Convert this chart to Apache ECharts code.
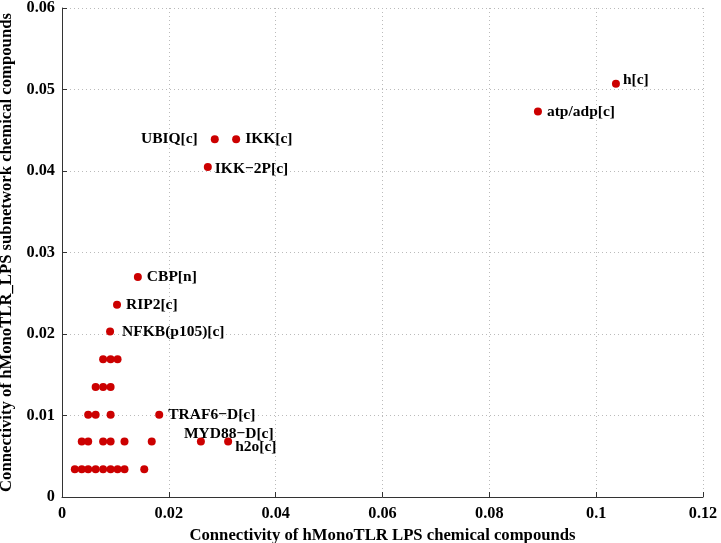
<!DOCTYPE html>
<html>
<head>
<meta charset="utf-8">
<script src="https://cdn.jsdelivr.net/npm/echarts@6/dist/echarts.min.js"></script>
<style>
  html, body { margin: 0; padding: 0; background: #fff; }
  #chart { width: 721px; height: 543px; }
</style>
</head>
<body>
<div id="chart"></div>
<script>
// connectivity values
const xValues = [
  0.0024, 0.0037, 0.0049, 0.0063, 0.0077, 0.0091, 0.0104, 0.0117, 0.0154,
  0.0037, 0.0049, 0.0077, 0.0091, 0.0117, 0.0168, 0.0260, 0.0311,
  0.0049, 0.0063, 0.0091, 0.0182,
  0.0063, 0.0077, 0.0091,
  0.0077, 0.0091, 0.0104,
  0.0090, 0.0103, 0.0142,
  0.0273, 0.0286, 0.0326,
  0.0891, 0.1037
]
const yValues = [
  0.0034, 0.0034, 0.0034, 0.0034, 0.0034, 0.0034, 0.0034, 0.0034, 0.0034,
  0.0068, 0.0068, 0.0068, 0.0068, 0.0068, 0.0068, 0.0068, 0.0068,
  0.0101, 0.0101, 0.0101, 0.0101,
  0.0135, 0.0135, 0.0135,
  0.0169, 0.0169, 0.0169,
  0.0203, 0.0236, 0.0270,
  0.0405, 0.0439, 0.0439,
  0.0473, 0.0507
]
const pointNames = [
  '', '', '', '', '', '', '', '', '',
  '', '', '', '', '', '', 'MYD88−D[c]', 'h2o[c]',
  '', '', '', 'TRAF6−D[c]',
  '', '', '',
  '', '', '',
  'NFKB(p105)[c]', 'RIP2[c]', 'CBP[n]',
  'IKK−2P[c]', 'UBIQ[c]', 'IKK[c]',
  'atp/adp[c]', 'h[c]'
]
const xTicks = [0, 0.02, 0.04, 0.06, 0.08, 0.1, 0.12]
const yTicks = [0, 0.01, 0.02, 0.03, 0.04, 0.05, 0.06]

// label placement tweaks
const labelTweaks = {
  'h[c]': { offset: [-2, -4] },
  'UBIQ[c]': { position: 'left', offset: [-8, 0] },
  'IKK−2P[c]': { offset: [-2, 2] },
  'NFKB(p105)[c]': { offset: [3, 0] },
  'MYD88−D[c]': { offset: [-26, -8] },
  'h2o[c]': { offset: [-2, 5] }
}

const font = '"Liberation Serif", "Times New Roman", serif'
const txt = { fontFamily: font, fontWeight: 'bold', fontSize: 15.5, color: '#000' }
const axisTxt = { ...txt, fontSize: 16.7 }

const points = xValues.map((x, i) => {
  const name = pointNames[i]
  const tw = labelTweaks[name] || {}
  return {
    value: [x, yValues[i]],
    name: name,
    label: {
      show: name !== '',
      formatter: name,
      position: tw.position || 'right',
      offset: tw.offset || [0, 0],
      ...txt
    }
  }
})

const fmt = v => String(+v.toFixed(2))

const axisCommon = {
  type: 'value',
  min: 0,
  nameLocation: 'middle',
  nameTextStyle: axisTxt,
  axisLine: { show: true, onZero: false, lineStyle: { color: '#333', width: 1 } },
  axisTick: { show: true, inside: true, length: 5, lineStyle: { color: '#333' } },
  axisLabel: { ...axisTxt, fontSize: 16.3, formatter: fmt },
  splitLine: { show: true, lineStyle: { color: '#bbb', type: [1, 3], width: 1 } }
}

let chart = echarts.init(document.getElementById('chart'), null, { renderer: 'canvas' })
chart.setOption({
  animation: false,
  backgroundColor: '#fff',
  grid: { left: 62, right: 18, top: 8, bottom: 46, containLabel: false, outerBoundsMode: 'none' },
  xAxis: {
    ...axisCommon,
    max: xTicks[xTicks.length - 1],
    interval: xTicks[1] - xTicks[0],
    name: 'Connectivity of hMonoTLR LPS chemical compounds',
    nameGap: 21,
    axisLabel: { ...axisCommon.axisLabel, margin: 9 }
  },
  yAxis: {
    ...axisCommon,
    max: yTicks[yTicks.length - 1],
    interval: yTicks[1] - yTicks[0],
    name: 'Connectivity of hMonoTLR_LPS subnetwork chemical compounds',
    nameGap: 42,
    axisLabel: { ...axisCommon.axisLabel, margin: 7 }
  },
  series: [{
    type: 'scatter',
    symbol: 'circle',
    symbolSize: 8,
    itemStyle: { color: '#cc0000', opacity: 1 },
    data: points
  }]
})
</script>
</body>
</html>
